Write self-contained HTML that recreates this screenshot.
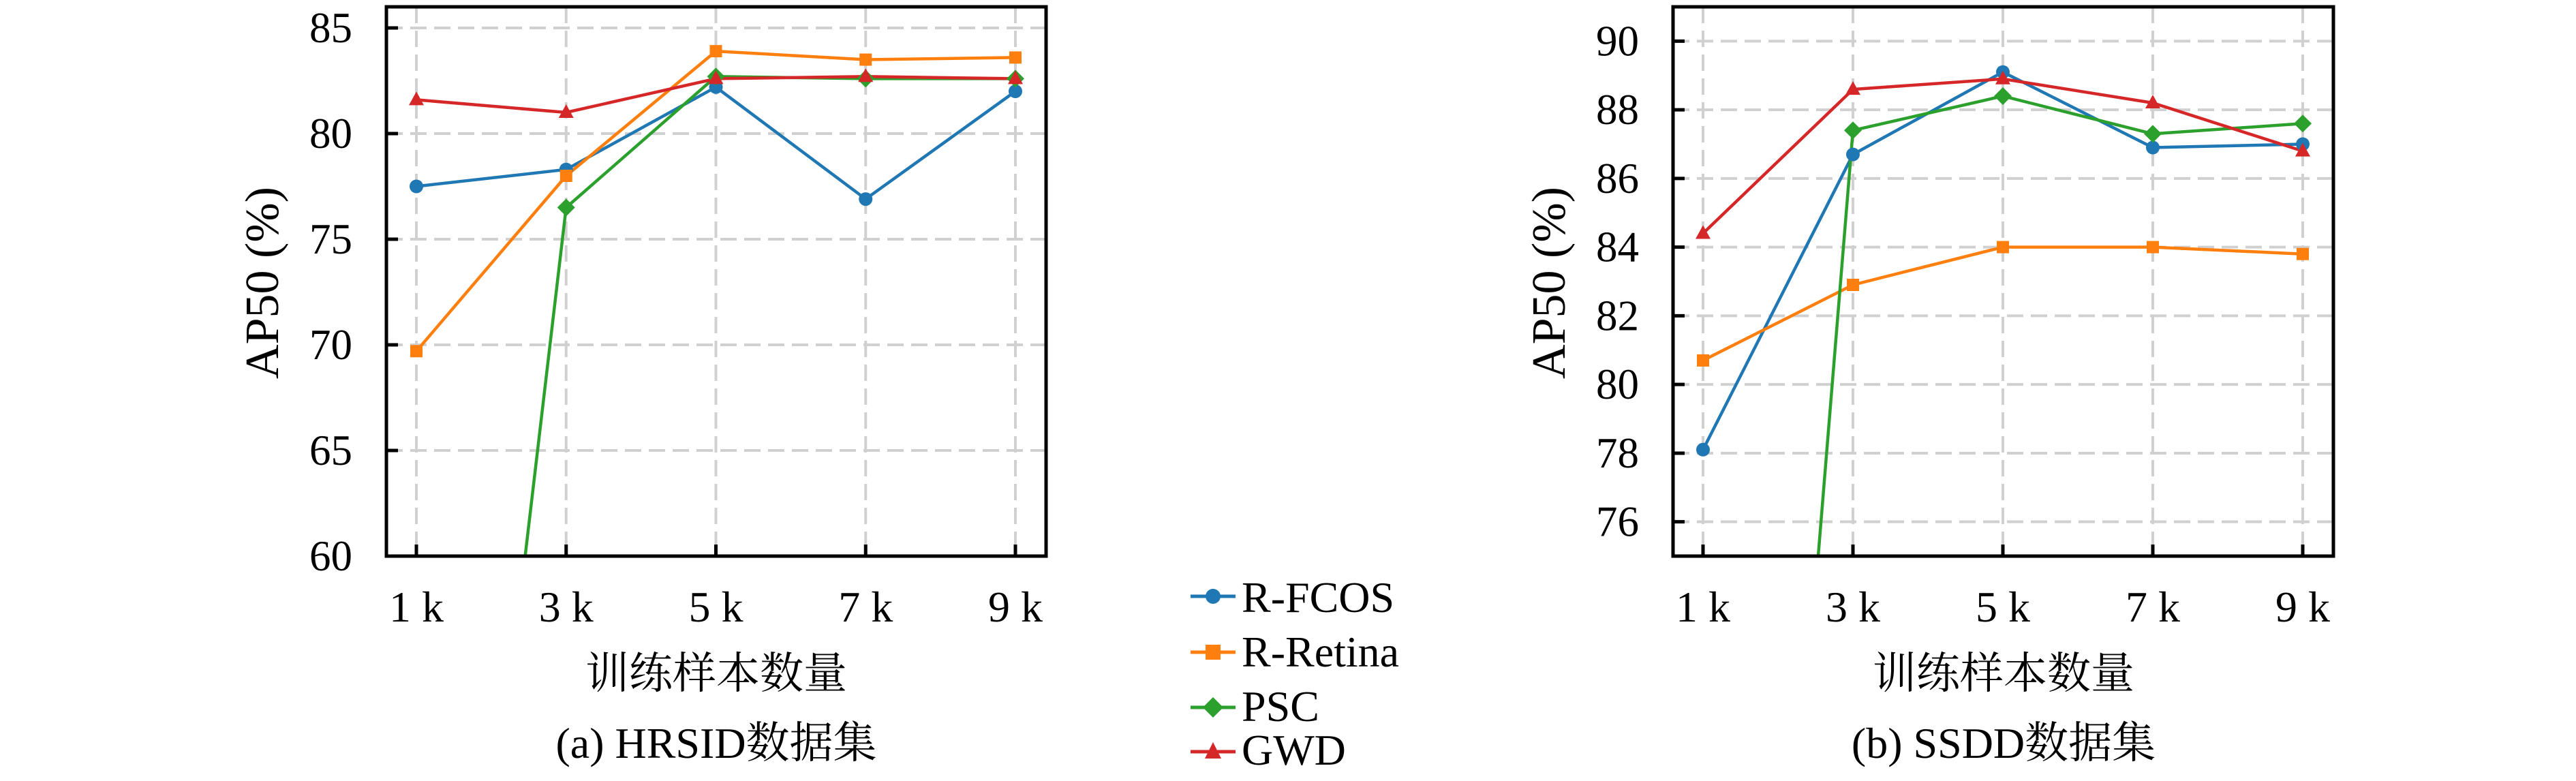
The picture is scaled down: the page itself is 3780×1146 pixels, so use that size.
<!DOCTYPE html>
<html><head><meta charset="utf-8"><style>
html,body{margin:0;padding:0;background:#fff;width:3780px;height:1146px;overflow:hidden}
svg{display:block}
text{font-family:"Liberation Serif","Noto Serif CJK SC","Noto Sans CJK SC",serif;fill:#000}
</style></head><body>
<svg width="3780" height="1146" viewBox="0 0 3780 1146" xmlns="http://www.w3.org/2000/svg" font-family="Liberation Serif, Noto Serif CJK SC, serif">
<defs>
<clipPath id="c1"><rect x="567" y="10" width="968" height="806"/></clipPath>
<clipPath id="c2"><rect x="2455" y="10" width="969" height="806"/></clipPath>
</defs>

<!-- LEFT PANEL -->
<g stroke="#d0d0d0" stroke-width="4" stroke-dasharray="24,11" fill="none">
<line x1="567" x2="1535" y1="661" y2="661"/><line x1="567" x2="1535" y1="506" y2="506"/>
<line x1="567" x2="1535" y1="351" y2="351"/><line x1="567" x2="1535" y1="196" y2="196"/>
<line x1="567" x2="1535" y1="41" y2="41"/>
<line x1="611" x2="611" y1="10" y2="816"/><line x1="830.75" x2="830.75" y1="10" y2="816"/>
<line x1="1050.5" x2="1050.5" y1="10" y2="816"/><line x1="1270.25" x2="1270.25" y1="10" y2="816"/>
<line x1="1490" x2="1490" y1="10" y2="816"/>
</g>
<g clip-path="url(#c1)" stroke-width="4.5" fill="none" stroke-linejoin="round">
<polyline stroke="#1f77b4" points="611,273.5 830.75,248.7 1050.5,127.8 1270.25,292.1 1490,134"/>
<polyline stroke="#ff7f0e" points="611,515.3 830.75,258 1050.5,75.1 1270.25,87.5 1490,84.4"/>
<polyline stroke="#2ca02c" points="770.6,816 830.75,304.5 1050.5,112.3 1270.25,115.4 1490,115.4"/>
<polyline stroke="#d62728" points="611,146.4 830.75,165 1050.5,115.4 1270.25,112.3 1490,115.4"/>
</g>
<g clip-path="url(#c1)">
<g fill="#1f77b4"><circle cx="611" cy="273.5" r="10"/><circle cx="830.75" cy="248.7" r="10"/><circle cx="1050.5" cy="127.8" r="10"/><circle cx="1270.25" cy="292.1" r="10"/><circle cx="1490" cy="134" r="10"/></g>
<g fill="#ff7f0e"><rect x="602" y="506.3" width="18" height="18"/><rect x="821.75" y="249" width="18" height="18"/><rect x="1041.5" y="66.1" width="18" height="18"/><rect x="1261.25" y="78.5" width="18" height="18"/><rect x="1481" y="75.4" width="18" height="18"/></g>
<g fill="#2ca02c"><polygon points="830.75,291.5 843.75,304.5 830.75,317.5 817.75,304.5"/><polygon points="1050.5,99.3 1063.5,112.3 1050.5,125.3 1037.5,112.3"/><polygon points="1270.25,102.4 1283.25,115.4 1270.25,128.4 1257.25,115.4"/><polygon points="1490,102.4 1503,115.4 1490,128.4 1477,115.4"/></g>
<g fill="#d62728"><polygon points="611,134.4 622,154.4 600,154.4"/><polygon points="830.75,153 841.75,173 819.75,173"/><polygon points="1050.5,103.4 1061.5,123.4 1039.5,123.4"/><polygon points="1270.25,100.3 1281.25,120.3 1259.25,120.3"/><polygon points="1490,103.4 1501,123.4 1479,123.4"/></g>
</g>
<g stroke="#000" stroke-width="5" fill="none">
<rect x="567" y="10" width="968" height="806"/>
<line x1="567" x2="584" y1="661" y2="661"/><line x1="567" x2="584" y1="506" y2="506"/><line x1="567" x2="584" y1="351" y2="351"/><line x1="567" x2="584" y1="196" y2="196"/><line x1="567" x2="584" y1="41" y2="41"/>
<line x1="611" x2="611" y1="816" y2="799"/><line x1="830.75" x2="830.75" y1="816" y2="799"/><line x1="1050.5" x2="1050.5" y1="816" y2="799"/><line x1="1270.25" x2="1270.25" y1="816" y2="799"/><line x1="1490" x2="1490" y1="816" y2="799"/>
</g>
<g font-size="63" text-anchor="end">
<text x="517" y="837">60</text><text x="517" y="682">65</text><text x="517" y="527">70</text><text x="517" y="372">75</text><text x="517" y="217">80</text><text x="517" y="62">85</text>
</g>
<g font-size="64" text-anchor="middle">
<text x="611" y="912">1 k</text><text x="830.75" y="912">3 k</text><text x="1050.5" y="912">5 k</text><text x="1270.25" y="912">7 k</text><text x="1490" y="912">9 k</text>
<text x="1051" y="1010">训练样本数量</text>
<text x="1051" y="1112">(a) HRSID数据集</text>
</g>
<text font-size="70" text-anchor="middle" transform="translate(408,415) rotate(-90)">AP50 (%)</text>

<!-- RIGHT PANEL -->
<g stroke="#d0d0d0" stroke-width="4" stroke-dasharray="24,11" fill="none">
<line x1="2455" x2="3424" y1="765.6" y2="765.6"/><line x1="2455" x2="3424" y1="665" y2="665"/>
<line x1="2455" x2="3424" y1="564.1" y2="564.1"/><line x1="2455" x2="3424" y1="463.4" y2="463.4"/>
<line x1="2455" x2="3424" y1="362.6" y2="362.6"/><line x1="2455" x2="3424" y1="261.9" y2="261.9"/>
<line x1="2455" x2="3424" y1="161.1" y2="161.1"/><line x1="2455" x2="3424" y1="60.4" y2="60.4"/>
<line x1="2499" x2="2499" y1="10" y2="816"/><line x1="2719" x2="2719" y1="10" y2="816"/>
<line x1="2939" x2="2939" y1="10" y2="816"/><line x1="3159" x2="3159" y1="10" y2="816"/>
<line x1="3379" x2="3379" y1="10" y2="816"/>
</g>
<g clip-path="url(#c2)" stroke-width="4.5" fill="none" stroke-linejoin="round">
<polyline stroke="#1f77b4" points="2499,659.8 2719,226.6 2939,105.7 3159,216.5 3379,211.5"/>
<polyline stroke="#ff7f0e" points="2499,528.9 2719,418 2939,362.6 3159,362.6 3379,372.7"/>
<polyline stroke="#2ca02c" points="2668,816 2719,191.3 2939,141 3159,196.4 3379,181.3"/>
<polyline stroke="#d62728" points="2499,342.5 2719,131.1 2939,115.8 3159,151 3379,221.6"/>
</g>
<g clip-path="url(#c2)">
<g fill="#1f77b4"><circle cx="2499" cy="659.8" r="10"/><circle cx="2719" cy="226.6" r="10"/><circle cx="2939" cy="105.7" r="10"/><circle cx="3159" cy="216.5" r="10"/><circle cx="3379" cy="211.5" r="10"/></g>
<g fill="#ff7f0e"><rect x="2490" y="519.9" width="18" height="18"/><rect x="2710" y="409" width="18" height="18"/><rect x="2930" y="353.6" width="18" height="18"/><rect x="3150" y="353.6" width="18" height="18"/><rect x="3370" y="363.7" width="18" height="18"/></g>
<g fill="#2ca02c"><polygon points="2719,178.3 2732,191.3 2719,204.3 2706,191.3"/><polygon points="2939,128 2952,141 2939,154 2926,141"/><polygon points="3159,183.4 3172,196.4 3159,209.4 3146,196.4"/><polygon points="3379,168.3 3392,181.3 3379,194.3 3366,181.3"/></g>
<g fill="#d62728"><polygon points="2499,330.5 2510,350.5 2488,350.5"/><polygon points="2719,119.1 2730,139.1 2708,139.1"/><polygon points="2939,103.8 2950,123.8 2928,123.8"/><polygon points="3159,139 3170,159 3148,159"/><polygon points="3379,209.6 3390,229.6 3368,229.6"/></g>
</g>
<g stroke="#000" stroke-width="5" fill="none">
<rect x="2455" y="10" width="969" height="806"/>
<line x1="2455" x2="2472" y1="765.6" y2="765.6"/><line x1="2455" x2="2472" y1="665" y2="665"/><line x1="2455" x2="2472" y1="564.1" y2="564.1"/><line x1="2455" x2="2472" y1="463.4" y2="463.4"/><line x1="2455" x2="2472" y1="362.6" y2="362.6"/><line x1="2455" x2="2472" y1="261.9" y2="261.9"/><line x1="2455" x2="2472" y1="161.1" y2="161.1"/><line x1="2455" x2="2472" y1="60.4" y2="60.4"/>
<line x1="2499" x2="2499" y1="816" y2="799"/><line x1="2719" x2="2719" y1="816" y2="799"/><line x1="2939" x2="2939" y1="816" y2="799"/><line x1="3159" x2="3159" y1="816" y2="799"/><line x1="3379" x2="3379" y1="816" y2="799"/>
</g>
<g font-size="63" text-anchor="end">
<text x="2405" y="786.6">76</text><text x="2405" y="686">78</text><text x="2405" y="585.1">80</text><text x="2405" y="484.4">82</text><text x="2405" y="383.6">84</text><text x="2405" y="282.9">86</text><text x="2405" y="182.1">88</text><text x="2405" y="81.4">90</text>
</g>
<g font-size="64" text-anchor="middle">
<text x="2499" y="912">1 k</text><text x="2719" y="912">3 k</text><text x="2939" y="912">5 k</text><text x="3159" y="912">7 k</text><text x="3379" y="912">9 k</text>
<text x="2940" y="1010">训练样本数量</text>
<text x="2940" y="1112">(b) SSDD数据集</text>
</g>
<text font-size="70" text-anchor="middle" transform="translate(2296,415) rotate(-90)">AP50 (%)</text>

<!-- LEGEND -->
<g stroke-width="5">
<line x1="1747" x2="1813" y1="875" y2="875" stroke="#1f77b4"/>
<line x1="1747" x2="1813" y1="957" y2="957" stroke="#ff7f0e"/>
<line x1="1747" x2="1813" y1="1038" y2="1038" stroke="#2ca02c"/>
<line x1="1747" x2="1813" y1="1103" y2="1103" stroke="#d62728"/>
</g>
<circle cx="1780" cy="875" r="11" fill="#1f77b4"/>
<rect x="1769" y="946" width="22" height="22" fill="#ff7f0e"/>
<polygon points="1780,1023 1795,1038 1780,1053 1765,1038" fill="#2ca02c"/>
<polygon points="1780,1089 1792,1113 1768,1113" fill="#d62728"/>
<g font-size="64">
<text x="1822" y="898">R-FCOS</text>
<text x="1822" y="978">R-Retina</text>
<text x="1822" y="1058">PSC</text>
<text x="1822" y="1122">GWD</text>
</g>
</svg>
</body></html>
